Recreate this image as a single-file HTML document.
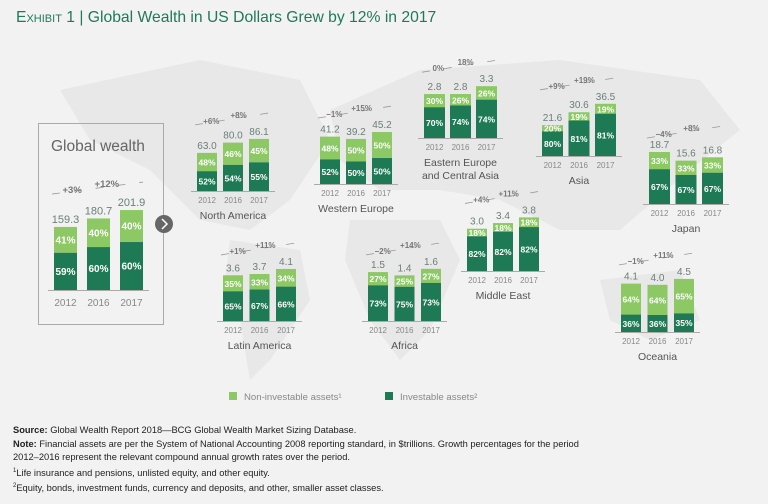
<!DOCTYPE html>
<html><head><meta charset="utf-8">
<style>
body{margin:0;background:#f2f2f2;}
#wrap{position:relative;width:768px;height:504px;overflow:hidden;background:#f2f2f2;font-family:"Liberation Sans",sans-serif;}
.title{position:absolute;left:16px;top:9px;font-size:15.7px;color:#1f7a5a;}
.title .sc{font-variant:small-caps;}
.foot{position:absolute;left:13px;top:424px;font-size:9.3px;line-height:13.6px;color:#222;}
</style></head><body>
<div id="wrap">
<div class="title"><span class="sc">Exhibit 1</span> | Global Wealth in US Dollars Grew by 12% in 2017</div>
<svg id="svg" width="768" height="504" style="position:absolute;left:0;top:0">
<g fill="#e8e8e8">
<path d="M60 90 L200 60 L300 80 L330 140 L290 200 L250 230 L200 220 L150 170 L90 140Z"/>
<path d="M230 240 L300 250 L310 300 L270 360 L250 380 L240 320 L225 280Z"/>
<path d="M330 110 L420 70 L560 60 L700 80 L740 130 L690 170 L620 230 L560 230 L500 200 L440 190 L380 190 L340 160Z"/>
<path d="M350 220 L440 220 L460 260 L430 330 L400 360 L370 320 L345 260Z"/>
<path d="M600 280 L680 270 L700 320 L650 340 L610 320Z"/>
</g>
<rect x="38.5" y="123.5" width="125" height="201" fill="none" stroke="#aaa"/>
<text x="51" y="151" font-size="15.5" fill="#666">Global wealth</text>
<circle cx="164" cy="224" r="9" fill="#666"/>
<path d="M162 219 L167 224 L162 229" stroke="#fff" stroke-width="1.5" fill="none"/>
<g id="charts"></g>
<rect x="229" y="392" width="8" height="8" fill="#8cc863"/>
<text x="244" y="400" font-size="9.6" fill="#888">Non-investable assets¹</text>
<rect x="385" y="392" width="8" height="8" fill="#1e7a55"/>
<text x="400" y="400" font-size="9.6" fill="#888">Investable assets²</text>
</svg>
<div class="foot">
<div><b>Source:</b> Global Wealth Report 2018—BCG Global Wealth Market Sizing Database.</div>
<div><b>Note:</b> Financial assets are per the System of National Accounting 2008 reporting standard, in $trillions. Growth percentages for the period</div>
<div>2012–2016 represent the relevant compound annual growth rates over the period.</div>
<div><sup style="font-size:6px">1</sup>Life insurance and pensions, unlisted equity, and other equity.</div>
<div><sup style="font-size:6px">2</sup>Equity, bonds, investment funds, currency and deposits, and other, smaller asset classes.</div>
</div>
</div>
<script>
const years = ["2012","2016","2017"];
const regionNames = ["Global","North America","Western Europe","Eastern Europe|and Central Asia","Asia","Japan","Latin America","Africa","Middle East","Oceania"];
const totals = [[159.3,180.7,201.9],[63.0,80.0,86.1],[41.2,39.2,45.2],[2.8,2.8,3.3],[21.6,30.6,36.5],[18.7,15.6,16.8],[3.6,3.7,4.1],[1.5,1.4,1.6],[3.0,3.4,3.8],[4.1,4.0,4.5]];
const investPct = [[59,60,60],[52,54,55],[52,50,50],[70,74,74],[80,81,81],[67,67,67],[65,67,66],[73,75,73],[82,82,82],[36,36,35]];
const nonInvestPct = [[41,40,40],[48,46,45],[48,50,50],[30,26,26],[20,19,19],[33,33,33],[35,33,34],[27,25,27],[18,18,18],[64,64,65]];
const growth1 = ["+3%","+6%","−1%","0%","+9%","−4%","+1%","−2%","+4%","−1%"];
const growth2 = ["+12%","+8%","+15%","18%","+19%","+8%","+11%","+14%","+11%","+11%"];
// layout: x of first bar, baseline y, bar width, pitch, px per unit
const layout = [
 {x:54,y:290,w:23,p:33,s:0.396,big:true},
 {x:197,y:191,w:20,p:26,s:0.605},
 {x:320,y:184,w:20,p:26,s:1.15},
 {x:424,y:138,w:21,p:26,s:15.7},
 {x:542,y:156,w:21,p:26.5,s:1.43},
 {x:649,y:204,w:21,p:26.5,s:2.78},
 {x:223,y:321,w:20,p:26.5,s:12.7},
 {x:368,y:321,w:20,p:26.5,s:32.6},
 {x:467,y:271,w:20,p:26,s:14.1},
 {x:621,y:332,w:20,p:26.5,s:11.8}
];
const NS='http://www.w3.org/2000/svg';
const g=document.getElementById('charts');
function mk(tag,attrs,parent){const e=document.createElementNS(NS,tag);for(const k in attrs)e.setAttribute(k,attrs[k]);(parent||g).appendChild(e);return e;}
function yScale(L,v){return v*L.s;}
regionNames.forEach((name,r)=>{
 const L=layout[r];const big=!!L.big;
 const grp=mk('g',{});
 
 
 totals[r].forEach((v,i)=>{
  const bx=L.x+i*L.p;const h=yScale(L,v);
  const hi=h*investPct[r][i]/100;const hn=h-hi;
  const top=L.y-h;
  const rn=mk('rect',{x:bx,y:top,width:L.w,height:hn,fill:'#8cc863'},grp);
  
  
  const ri=mk('rect',{x:bx,y:L.y-hi,width:L.w,height:hi,fill:'#1e7a55'},grp);
  
  
  const t1=mk('text',{x:bx+L.w/2,y:top+hn/2+3.5,'font-size':big?10:8.5,'font-weight':'bold',fill:'#fff','text-anchor':'middle'},grp);t1.textContent=nonInvestPct[r][i]+'%';
  
  
  const t2=mk('text',{x:bx+L.w/2,y:L.y-hi/2+3.5,'font-size':big?10:8.5,'font-weight':'bold',fill:'#fff','text-anchor':'middle'},grp);t2.textContent=investPct[r][i]+'%';
  
  
  const tv=mk('text',{x:bx+L.w/2,y:top-4,'font-size':big?11:10,fill:'#6a7f7a','text-anchor':'middle'},grp);tv.textContent=v.toFixed(1);
  
  
  const ty=mk('text',{x:bx+L.w/2,y:L.y+(big?16:12),'font-size':big?10:8,fill:'#888','text-anchor':'middle'},grp);ty.textContent=years[i];
  
  
 });
 const x0=L.x-6,x1=L.x+2*L.p+L.w+6;
 const ax=mk('line',{x1:x0,x2:x1,y1:L.y+0.5,y2:L.y+0.5,stroke:'#aaa','stroke-width':1},grp);
 
 
 if(!big){
  const parts=name.split('|');
  parts.forEach((p,k)=>{
   const tn=mk('text',{x:(x0+x1)/2,y:L.y+28+k*13,'font-size':10.5,fill:'#555','text-anchor':'middle'},grp);tn.textContent=p;
   
   
  });
 }
 const maxTop=L.y-Math.max(...totals[r].map(v=>yScale(L,v)));
 const gy=maxTop-(big?22:20);
 const ln=mk('path',{d:`M${L.x-2} ${gy+6} L${L.x+L.p*2+L.w} ${gy-6}`,stroke:'#999','stroke-width':0.8,fill:'none','stroke-dasharray':'8 14'},grp);
 
 
 const g1=mk('text',{x:L.x+L.p*0.55,y:gy+5,'font-size':big?9.5:8,'font-weight':'bold',fill:'#777','text-anchor':'middle'},grp);g1.textContent=growth1[r];
 
 
 const g2=mk('text',{x:L.x+L.p*1.6,y:gy-1,'font-size':big?9.5:8,'font-weight':'bold',fill:'#777','text-anchor':'middle'},grp);g2.textContent=growth2[r];
 
 
});
</script>
</body></html>
